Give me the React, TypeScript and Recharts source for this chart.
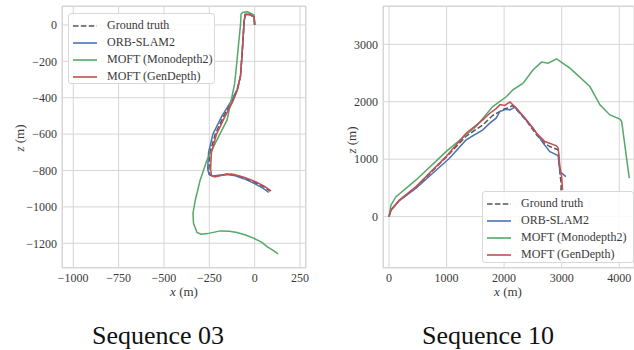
import React from 'react';
import { LineChart, Line, XAxis, YAxis, CartesianGrid } from 'recharts';

// Sequence 03 trajectories, [x, z] in metres
const gt03 = [
  [0, 0], [-3, 45], [-30, 58], [-52, 57], [-58, 20], [-63, -60], [-70, -170], [-78, -280],
  [-95, -355], [-125, -420], [-170, -500], [-217, -600], [-246, -700], [-252, -790], [-246, -826],
  [-226, -832], [-190, -826], [-150, -820], [-115, -823], [-60, -840], [0, -866], [50, -890], [85, -914],
];
const orb03 = [
  [0, 0], [-3, 45], [-30, 58], [-52, 57], [-58, 20], [-63, -60], [-70, -170], [-78, -280],
  [-97, -355], [-130, -420], [-180, -500], [-230, -600], [-254, -700], [-259, -790], [-252, -820],
  [-232, -830], [-195, -826], [-155, -822], [-115, -827], [-60, -845], [0, -872], [45, -897], [78, -921],
];
const gen03 = [
  [0, 0], [-3, 45], [-30, 58], [-52, 57], [-58, 20], [-63, -60], [-70, -170], [-78, -280],
  [-94, -355], [-120, -420], [-162, -500], [-210, -600], [-238, -700], [-243, -790], [-238, -828],
  [-220, -836], [-185, -828], [-148, -820], [-112, -822], [-55, -838], [5, -862], [55, -887], [90, -912],
];
const mono03 = [
  [0, 0], [-4, 55], [-40, 72], [-65, 70], [-75, 60], [-78, 0], [-88, -100], [-97, -192],
  [-110, -320], [-125, -394], [-135, -440], [-152, -522], [-189, -595], [-226, -668], [-263, -742],
  [-300, -852], [-327, -962], [-340, -1035], [-337, -1090], [-318, -1141], [-295, -1150], [-260, -1147],
  [-189, -1132], [-140, -1134], [-97, -1141], [-50, -1155], [-6, -1172], [40, -1195], [68, -1218],
  [100, -1238], [129, -1258],
];

// Sequence 10 trajectories
const gt10 = [
  [0, 0], [35, 113], [181, 288], [470, 510], [991, 1035], [1339, 1400], [1630, 1598], [1800, 1760],
  [1920, 1829], [2010, 1880], [2094, 1900], [2140, 1935], [2216, 1865], [2390, 1665], [2563, 1425],
  [2708, 1270], [2795, 1220], [2939, 1162], [2969, 760], [2992, 560], [2985, 430],
];
const orb10 = [
  [0, 0], [35, 110], [181, 280], [470, 494], [1050, 1017], [1339, 1336], [1630, 1510], [1751, 1627],
  [1861, 1714], [1925, 1829], [2007, 1859], [2042, 1871], [2099, 1859], [2186, 1906], [2330, 1742],
  [2504, 1540], [2678, 1279], [2795, 1132], [2911, 1075], [2939, 1057], [2969, 784], [3073, 697],
];
const gen10 = [
  [0, 0], [35, 117], [181, 291], [470, 523], [991, 1045], [1339, 1453], [1630, 1685], [1751, 1800],
  [1861, 1880], [1930, 1950], [2010, 1935], [2100, 1995], [2216, 1888], [2390, 1685], [2563, 1453],
  [2708, 1307], [2911, 1232], [2939, 1192], [2969, 871], [2998, 697], [3016, 465],
];
const mono10 = [
  [0, 0], [35, 204], [122, 348], [470, 639], [991, 1132], [1513, 1568], [1803, 1916], [2042, 2091],
  [2151, 2207], [2330, 2324], [2504, 2556], [2650, 2690], [2765, 2672], [2911, 2747], [3143, 2585],
  [3490, 2265], [3664, 1946], [3838, 1771], [4012, 1697], [4042, 1655], [4174, 669],
];

const xTicks03 = [-1000, -750, -500, -250, 0, 250];
const zTicks03 = [0, -200, -400, -600, -800, -1000, -1200];
const xTicks10 = [0, 1000, 2000, 3000, 4000];
const zTicks10 = [0, 1000, 2000, 3000];

const seriesNames = ['Ground truth', 'ORB-SLAM2', 'MOFT (Monodepth2)', 'MOFT (GenDepth)'];
const seriesColors = ['#555555', '#4C72B0', '#55A868', '#C44E52'];

const FONT = '"Liberation Serif", "DejaVu Serif", serif';
const GRID = '#d6d6d6';

const toPts = (arr: number[][]) => arr.map(([x, z]) => ({ x, z }));
const fmt = (v: number) => String(v).replace('-', '\u2212');

function Legend({ left, top, width, height }: any) {
  return (
    <div
      style={{
        position: 'absolute', left, top, width, height, boxSizing: 'border-box',
        background: 'rgba(255,255,255,0.85)', border: '1px solid #d8d8d8', borderRadius: 3,
      }}
    >
      {seriesNames.map((name, i) => (
        <div key={name} style={{ position: 'absolute', left: 4, top: 3 + i * 17, height: 17, display: 'flex', alignItems: 'center' }}>
          <svg width={24} height={4} style={{ marginRight: 10 }}>
            <line x1={0} y1={2} x2={24} y2={2} stroke={seriesColors[i]} strokeWidth={1.6}
              strokeDasharray={i === 0 ? '5.5 2.4' : undefined} />
          </svg>
          <span style={{ fontFamily: FONT, fontSize: 12, color: '#3a3a3a', whiteSpace: 'nowrap' }}>{name}</span>
        </div>
      ))}
    </div>
  );
}

function Panel({ left, width, yAxisW, marginRight, xDomain, zDomain, xTicks, zTicks, series }: any) {
  const tick = { fontFamily: FONT, fontSize: 12, fill: '#3a3a3a' };
  return (
    <div style={{ position: 'absolute', left, top: 0 }}>
      <LineChart width={width} height={300} margin={{ top: 6, right: marginRight, bottom: 12, left: 0 }}>
        <CartesianGrid stroke={GRID} strokeWidth={1} />
        <XAxis type="number" dataKey="x" domain={xDomain} ticks={xTicks} allowDataOverflow
          axisLine={false} tickLine={false} tickSize={0} tickMargin={5} height={20}
          tick={tick} tickFormatter={fmt} interval={0} />
        <YAxis type="number" dataKey="z" domain={zDomain} ticks={zTicks} allowDataOverflow
          axisLine={false} tickLine={false} tickSize={0} tickMargin={5} width={yAxisW}
          tick={tick} tickFormatter={fmt} interval={0} />
        {series.map((s: number[][], i: number) => (
          <Line key={i} data={toPts(s)} dataKey="z" type="linear" dot={false} activeDot={false}
            stroke={seriesColors[i]} strokeWidth={1.5} strokeDasharray={i === 0 ? '5.5 2.4' : undefined}
            isAnimationActive={false} />
        ))}
      </LineChart>
    </div>
  );
}

function AxisTitle({ x, y, rotate, children }: any) {
  return (
    <div style={{
      position: 'absolute', left: x, top: y, transform: `translate(-50%, -50%)${rotate ? ' rotate(-90deg)' : ''}`,
      fontFamily: FONT, fontSize: 13, color: '#3a3a3a', whiteSpace: 'nowrap',
    }}>
      {children}
    </div>
  );
}

const label = (v: string) => (<span><i>{v}</i> (m)</span>);

export default function App() {
  return (
    <div style={{ position: 'fixed', left: 0, top: 0, width: 634, height: 350, overflow: 'hidden', background: '#fff' }}>
      <Panel left={0} width={320} yAxisW={62} marginRight={14}
        xDomain={[-1062, 283]} zDomain={[-1336, 104]} xTicks={xTicks03} zTicks={zTicks03}
        series={[gt03, orb03, mono03, gen03]} />
      <div style={{ position: 'absolute', left: 62, top: 6, width: 244, height: 262, border: `1px solid ${GRID}`, boxSizing: 'border-box' }} />
      <Legend left={68} top={13} width={147} height={71} />

      <Panel left={320} width={314} yAxisW={63} marginRight={0}
        xDomain={[-104, 4256]} zDomain={[-894, 3667]} xTicks={xTicks10} zTicks={zTicks10}
        series={[gt10, orb10, mono10, gen10]} />
      <div style={{ position: 'absolute', left: 383, top: 6, width: 252, height: 262, border: `1px solid ${GRID}`, boxSizing: 'border-box' }} />
      <Legend left={482} top={191} width={152} height={72} />

      <AxisTitle x={184} y={292}>{label('x')}</AxisTitle>
      <AxisTitle x={20} y={138} rotate>{label('z')}</AxisTitle>
      <AxisTitle x={508} y={292}>{label('x')}</AxisTitle>
      <AxisTitle x={352} y={140} rotate>{label('z')}</AxisTitle>

      <div style={{ position: 'absolute', left: 158, top: 336, transform: 'translate(-50%, -50%)', fontFamily: FONT, fontSize: 26, color: '#111', whiteSpace: 'nowrap' }}>
        Sequence 03
      </div>
      <div style={{ position: 'absolute', left: 488, top: 336, transform: 'translate(-50%, -50%)', fontFamily: FONT, fontSize: 26, color: '#111', whiteSpace: 'nowrap' }}>
        Sequence 10
      </div>
    </div>
  );
}
